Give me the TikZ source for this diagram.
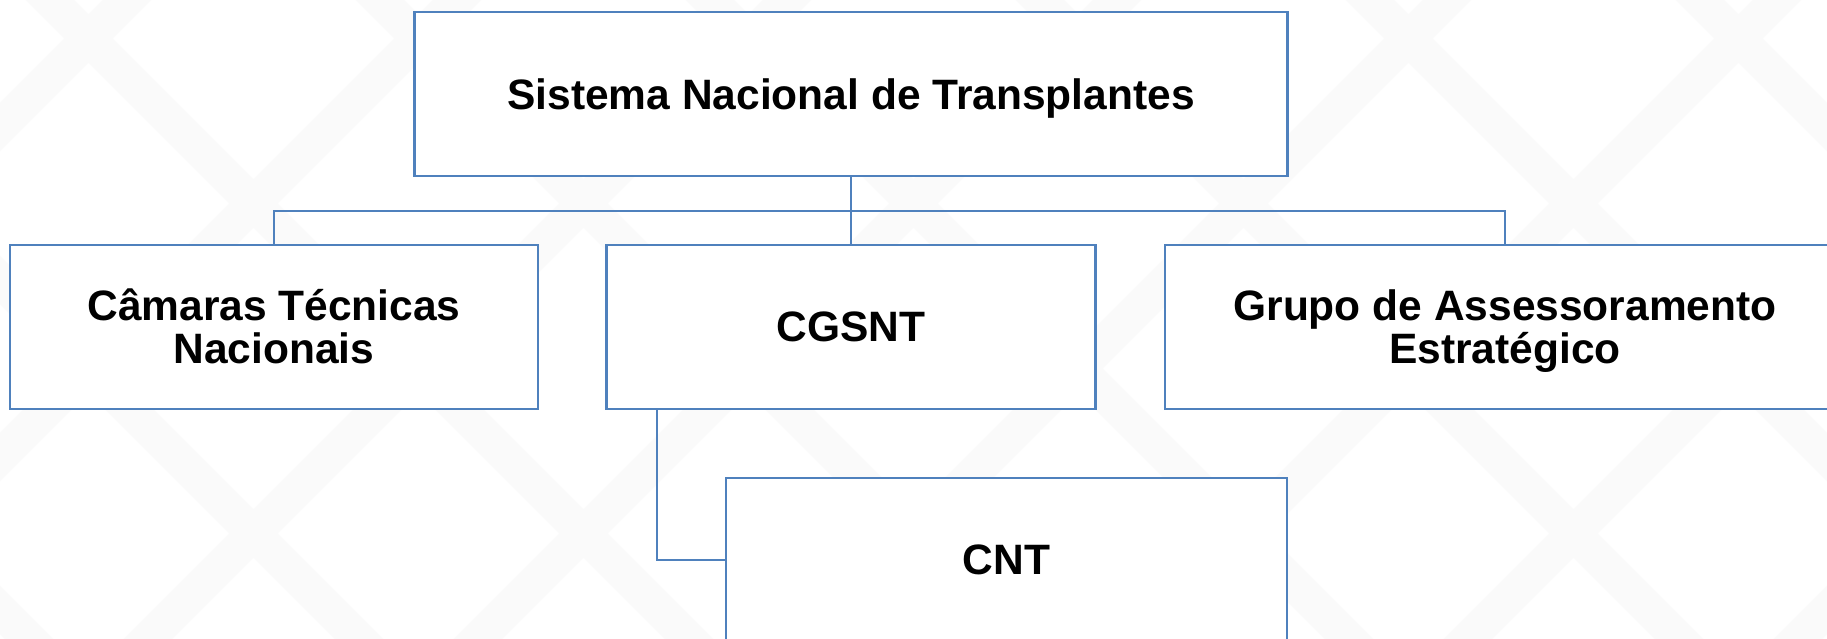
\documentclass[tikz,border=0pt]{standalone}
\usepackage{fontspec}
\setmainfont{Liberation Sans}
\definecolor{boxblue}{HTML}{4F81BD}
\definecolor{bgpat}{HTML}{FAFAFA}
\newcommand\boxline[1]{\rule[-6pt]{0pt}{41pt}\smash{#1}}
\begin{document}
\begin{tikzpicture}[x=1pt,y=-1pt,
  box/.style={draw=boxblue, line width=2.5pt, fill=white, rectangle, minimum height=164pt,
    inner sep=0pt, outer sep=0pt, align=center, font=\bfseries\fontsize{42.5}{43}\selectfont},
  conn/.style={draw=boxblue, line width=2.5pt}]
\useasboundingbox (0,0) rectangle (1827,639);
\clip (0,0) rectangle (1827,639);
\fill[white] (0,0) rectangle (1827,639);
% faint background pattern
\begin{scope}[bgpat, line width=34pt]
  \foreach \i in {-6,...,6} {
    \draw (\i*330,-50) -- ++(740,740);
    \draw (\i*330+1827,-50) -- ++(-740,740);
  }
\end{scope}
\coordinate (bus) at (0,211);
\coordinate (cj) at (657,0);
\node[box, minimum width=873pt, text height=31pt, text depth=0pt] (top) at (851,94) {Sistema Nacional de Transplantes};
\node[box, minimum width=528pt] (left) at (274,327) {\boxline{Câmaras Técnicas}\\\boxline{Nacionais}};
\node[box, minimum width=489pt] (mid) at (851,327) {CGSNT};
\node[box, minimum width=680pt] (right) at (1505,327) {\boxline{Grupo de Assessoramento}\\\boxline{Estratégico}};
\node[box, minimum width=561pt] (cnt) at (1006.5,560) {CNT};
\draw[conn] (top.south) -- (top.south |- bus);
\draw[conn] (left.north) |- (bus -| right.north) -- (right.north);
\draw[conn] (top.south |- bus) -- (mid.north);
\draw[conn] (mid.south -| cj) -- (cj |- cnt.west) -- (cnt.west);
\end{tikzpicture}
\end{document}
